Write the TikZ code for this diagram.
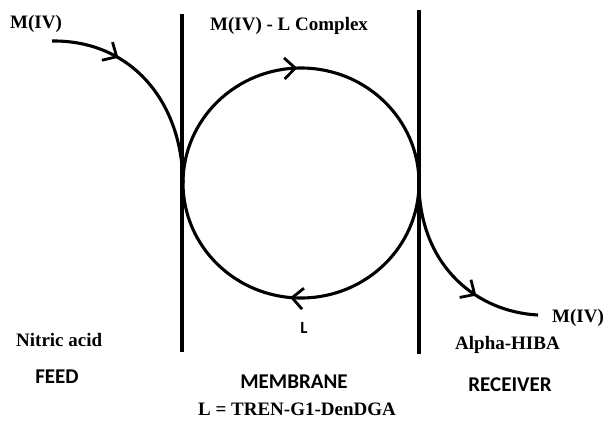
\documentclass[tikz,border=0pt]{standalone}
\usepackage{fontspec}
\setmainfont{Liberation Serif}
\newfontfamily\calib{Carlito}
\usetikzlibrary{arrows.meta,decorations.markings}
\tikzset{
  wall/.style={line width=3.4pt},
  flow/.style={line width=3.1pt},
  chev/.style={postaction={decorate,decoration={markings,
     mark=at position #1 with {\arrow{Straight Barb[length=11pt,width=21pt,line width=2.8pt]}}}}},
  serlab/.style={font=\bfseries\fontsize{19}{22}\selectfont, anchor=base west, inner sep=0pt},
  sanlab/.style={font=\calib\bfseries\fontsize{21}{24}\selectfont, anchor=base, inner sep=0pt},
}
\begin{document}
\begin{tikzpicture}[x=1pt,y=-1pt]
\useasboundingbox (0,0) rectangle (604,423);
% membrane walls
\coordinate (lt) at (182,14);  \coordinate (lb) at (182,352);
\coordinate (rt) at (419,10);  \coordinate (rb) at (419,354);
\draw[wall] (lt) -- (lb);
\draw[wall] (rt) -- (rb);
% circle points
\coordinate (L) at (183,183);
\coordinate (T) at (301,68);
\coordinate (R) at (419,183);
\coordinate (B) at (301,298);
% feed curve
\coordinate (fs) at (52,41);
\draw[flow,chev=0.32] (fs) .. controls (130,40) and (182,100) .. (L);
% circle
\draw[flow,chev=0.49] (L) .. controls (183,119.5) and (235.8,68) .. (T)
   .. controls (366.2,68) and (419,119.5) .. (R);
\draw[flow,chev=0.53] (R) .. controls (419,246.5) and (366.2,298) .. (B)
   .. controls (235.8,298) and (183,246.5) .. (L);
% receiver curve
\coordinate (re) at (538,315);
\draw[flow,chev=0.66] (419,188) .. controls (422,268) and (478,312) .. (re);
% labels
\node[serlab] (m1) at (10,28) {M(IV)};
\node[serlab] (cx) at (210,30) {M(IV) - L Complex};
\node[serlab] (na) at (16,346) {Nitric acid};
\node[serlab] (ah) at (455,349) {Alpha-HIBA};
\node[serlab] (m2) at (552,322) {M(IV)};
\node[font=\bfseries\fontsize{19}{22}\selectfont, anchor=base, inner sep=0pt] (def) at (297,415) {L = TREN-G1-DenDGA};
\node[sanlab] (fd) at (57,383) {FEED};
\node[sanlab] (mb) at (294,388) {MEMBRANE};
\node[sanlab] (rc) at (510,391) {RECEIVER};
\node[font=\calib\bfseries\fontsize{17}{20}\selectfont, anchor=base, inner sep=0pt] (lg) at (304,333) {L};
\end{tikzpicture}
\end{document}
